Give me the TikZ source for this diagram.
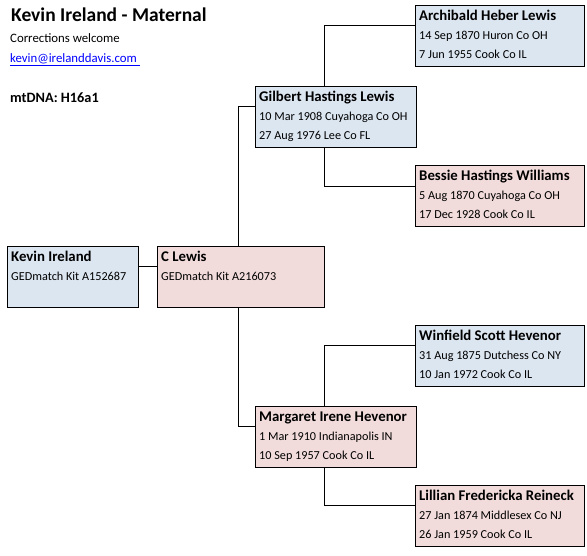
\documentclass[tikz,border=0pt]{standalone}
\usepackage{fontspec}
\setmainfont{Carlito}
\usepackage{xcolor}
\usetikzlibrary{positioning}
\definecolor{malebox}{HTML}{DCE6F1}
\definecolor{femalebox}{HTML}{F2DCDB}
\definecolor{linkblue}{HTML}{0000FF}

% one person: id, x, y, width, fill, name, line one, line two
\newcommand\person[8]{%
  \node[personbox, minimum width=#4, fill=#5] (#1) at (#2,#3) {};
  \coordinate (#1-in) at ([yshift=-20pt]#1.north west);
  \node[pname] (#1-name) at ([shift={(4,15)}]#1.north west) {#6};
  \node[pline] (#1-born) at ([shift={(4,34)}]#1.north west) {#7};
  \node[pline] (#1-died) at ([shift={(4,53)}]#1.north west) {#8};
}

\begin{document}
\begin{tikzpicture}[
    x=1pt, y=-1pt,
    personbox/.style={rectangle, draw=black, line width=1.3pt, anchor=north west, minimum height=61pt, inner sep=0pt},
    pname/.style={anchor=base west, inner sep=0pt, font=\fontsize{14.8}{16}\selectfont\bfseries},
    pline/.style={anchor=base west, inner sep=0pt, font=\fontsize{12.2}{14}\selectfont},
    link/.style={line width=0.8pt}
  ]
    \useasboundingbox (0,0) rectangle (587,555);
    % heading
    \node[anchor=base west, inner sep=0pt, font=\fontsize{19.5}{22}\selectfont\bfseries] (title) at (11,21) {Kevin Ireland - Maternal};
    \node[pline, font=\fontsize{12.8}{14}\selectfont] (welcome) at (10,42) {Corrections welcome};
    \node[pline, font=\fontsize{12.8}{14}\selectfont, text=linkblue] (email) at (10,62) {\underline{kevin@irelanddavis.com\ }};
    \node[pname, font=\fontsize{14.3}{16}\selectfont\bfseries] (mtdna) at (10,102) {mtDNA: H16a1};
    % bars behind the boxes
    \coordinate (gbar) at (324,0);
    \coordinate (pbar) at (238,0);
    \coordinate (mbar) at (324,0);
    \coordinate (gilbert-in) at (255,106);
    \coordinate (margaret-in) at (255,426);
    \coordinate (archibald-in) at (415,25);
    \coordinate (bessie-in) at (415,186);
    \coordinate (winfield-in) at (415,345);
    \coordinate (lillian-in) at (415,505);
    \draw[link] (archibald-in) -- (archibald-in -| gbar) |- (bessie-in);
    \draw[link] (winfield-in) -- (winfield-in -| mbar) |- (lillian-in);
    \draw[link] (gilbert-in) -- (gilbert-in -| pbar) |- (margaret-in);
    % people
    \person{kevin}{7}{246}{131pt}{malebox}{Kevin Ireland}{GEDmatch Kit A152687}{}
    \person{clewis}{157}{246}{167pt}{femalebox}{C Lewis}{GEDmatch Kit A216073}{}
    \person{gilbert}{255}{86}{161pt}{malebox}{Gilbert Hastings Lewis}{10 Mar 1908 Cuyahoga Co OH}{27 Aug 1976 Lee Co FL}
    \person{margaret}{255}{406}{161pt}{femalebox}{Margaret Irene Hevenor}{1 Mar 1910 Indianapolis IN}{10 Sep 1957 Cook Co IL}
    \person{archibald}{415}{5}{169pt}{malebox}{Archibald Heber Lewis}{14 Sep 1870 Huron Co OH}{7 Jun 1955 Cook Co IL}
    \person{bessie}{415}{165}{169pt}{femalebox}{Bessie Hastings Williams}{5 Aug 1870 Cuyahoga Co OH}{17 Dec 1928 Cook Co IL}
    \person{winfield}{415}{325}{169pt}{malebox}{Winfield Scott Hevenor}{31 Aug 1875 Dutchess Co NY}{10 Jan 1972 Cook Co IL}
    \person{lillian}{415}{485}{169pt}{femalebox}{Lillian Fredericka Reineck}{27 Jan 1874 Middlesex Co NJ}{26 Jan 1959 Cook Co IL}
    % child to parent
    \draw[link] (kevin.east |- clewis-in) -- (clewis-in);
\end{tikzpicture}
\end{document}
